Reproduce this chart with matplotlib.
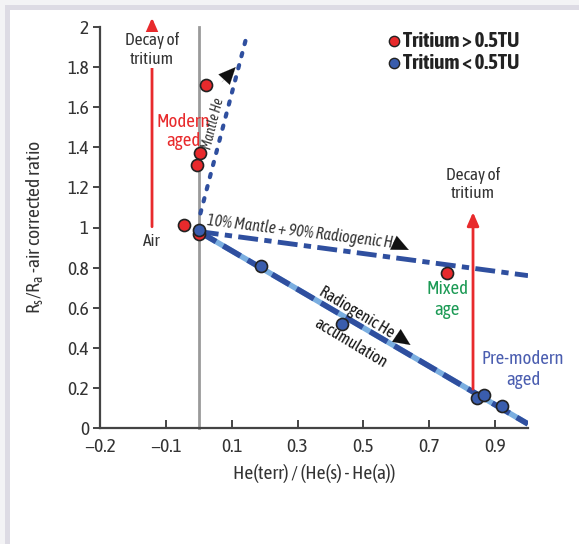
import matplotlib
matplotlib.use("Agg")
import matplotlib.pyplot as plt
from matplotlib.patches import Rectangle

plt.rcParams["font.family"] = ["Asap Condensed", "Roboto", "DejaVu Sans"]

# samples with tritium > 0.5 TU
red_x = [-0.045, 0.021, 0.003, -0.005, 0.0, 0.755]
red_y = [1.01, 1.71, 1.37, 1.31, 0.97, 0.775]
# samples with tritium < 0.5 TU
blue_x = [0.0, 0.19, 0.436, 0.845, 0.867, 0.92]
blue_y = [0.99, 0.81, 0.52, 0.15, 0.165, 0.11]

# reference lines
radiogenic_x = [0.0, 1.0]
radiogenic_y = [0.98, 0.02]
mixing_x = [0.0, 1.0]
mixing_y = [0.98, 0.76]
mantle_x = [0.005, 0.148]
mantle_y = [1.07, 1.97]

xtick_pos = [-0.3, -0.1, 0.1, 0.3, 0.5, 0.7, 0.9]
xtick_lab = ["\u22120.2", "\u22120.1", "0.1", "0.3", "0.5", "0.7", "0.9"]
ytick_pos = [0, 0.2, 0.4, 0.6, 0.8, 1, 1.2, 1.4, 1.6, 1.8, 2]
ytick_lab = ["0", "0.2", "0.4", "0.6", "0.8", "1", "1.2", "1.4", "1.6", "1.8", "2"]

RED = "#e82a2c"
BLUE = "#2f4f9f"
LIGHT = "#7aaee0"
GREEN = "#1c9a55"
GRAYTXT = "#333333"

fig = plt.figure(figsize=(5.79, 5.44), dpi=100)
# frame around the panel
fig.patches.append(Rectangle((0, 0), 1, 1, transform=fig.transFigure,
                             facecolor="#f3f3f5", edgecolor="none", zorder=-3))
fig.patches.append(Rectangle((5 / 579, 0), 1, 1 - 5 / 544, transform=fig.transFigure,
                             facecolor="#dddbe4", edgecolor="none", zorder=-2))
fig.patches.append(Rectangle((10 / 579, 0), 1, 1 - 10 / 544, transform=fig.transFigure,
                             facecolor="white", edgecolor="none", zorder=-1))

ax = fig.add_axes([100 / 579, 116 / 544, 428 / 579, 401 / 544])
ax.set_facecolor("none")
ax.set_xlim(-0.3, 1.0)
ax.set_ylim(0, 2.0)
for s in ["top", "right"]:
    ax.spines[s].set_visible(False)
for s in ["left", "bottom"]:
    ax.spines[s].set_color("#444444")
    ax.spines[s].set_linewidth(1.6)
ax.set_xticks(xtick_pos)
ax.set_xticklabels(xtick_lab)
ax.set_yticks(ytick_pos)
ax.set_yticklabels(ytick_lab)
ax.tick_params(labelsize=14, color="#444444", labelcolor=GRAYTXT, width=1.4, length=5)
ax.tick_params(axis="x", direction="in", length=6, pad=7)
ax.tick_params(axis="y", pad=3)

ax.set_xlabel("He(terr) / (He(s) - He(a))", fontsize=14, color=GRAYTXT, labelpad=6)
ax.set_ylabel(r"R$_\mathregular{s}$/R$_\mathregular{a}$ -air corrected ratio",
              fontsize=14, color=GRAYTXT, labelpad=15)

# air line
ax.plot([0, 0], [0, 2.0], color="#9a9a9a", lw=2, zorder=1, clip_on=False)

# radiogenic accumulation
ax.plot(radiogenic_x, radiogenic_y, color=LIGHT, lw=4, zorder=2, solid_capstyle="butt")
ax.plot(radiogenic_x, radiogenic_y, color=BLUE, lw=4, dashes=(3.6, 1.5), zorder=3)
# mantle + radiogenic mixing
ax.plot(mixing_x, mixing_y, color=BLUE, lw=3.5, dashes=(4.1, 1.3, 1.5, 1.3), zorder=3)
# mantle He
ax.plot(mantle_x, mantle_y, color=BLUE, lw=3, dashes=(0.8, 2.2),
        dash_capstyle="round", zorder=3)

# tritium decay arrows
ax.annotate("", xy=(-0.142, 2.06), xytext=(-0.142, 0.99),
            arrowprops=dict(arrowstyle="-|>,head_length=0.8,head_width=0.35",
                            color=RED, lw=2), annotation_clip=False)
ax.annotate("", xy=(0.833, 1.09), xytext=(0.833, 0.18),
            arrowprops=dict(arrowstyle="-|>,head_length=0.8,head_width=0.35",
                            color=RED, lw=2))

# direction arrowheads
def head(x0, y0, x1, y1):
    ax.annotate("", xy=(x1, y1), xytext=(x0, y0),
                arrowprops=dict(arrowstyle="-|>,head_length=1.1,head_width=0.5",
                                mutation_scale=11, color="#111111", lw=0.1,
                                shrinkA=0, shrinkB=0), zorder=6)

head(0.07, 1.725, 0.112, 1.80)
head(0.59, 0.925, 0.638, 0.888)
head(0.598, 0.464, 0.643, 0.414)

ax.scatter(red_x, red_y, s=75, color=RED, edgecolor="#222222", lw=1.2, zorder=5)
ax.scatter(blue_x, blue_y, s=75, color="#3a5dad", edgecolor="#222222", lw=1.2, zorder=5)

# labels
ax.text(-0.142, 1.885, "Decay of\ntritium", ha="center", va="center", fontsize=12.5,
        color=GRAYTXT, linespacing=1.1,
        bbox=dict(facecolor="white", edgecolor="none", pad=0.5))
ax.text(-0.142, 0.93, "Air", ha="center", va="center", fontsize=12.5, color=GRAYTXT)
ax.text(0.833, 1.215, "Decay of\ntritium", ha="center", va="center", fontsize=12.5,
        color=GRAYTXT, linespacing=1.1)
ax.text(-0.048, 1.48, "Modern\naged", ha="center", va="center", fontsize=13.5,
        color=RED, linespacing=1.1)
ax.text(0.755, 0.64, "Mixed\nage", ha="center", va="center", fontsize=13.5,
        color=GREEN, linespacing=1.2)
ax.text(0.985, 0.29, "Pre-modern\naged", ha="center", va="center", fontsize=13.5,
        color="#4b5eb0", linespacing=1.2)
ax.text(0.046, 1.52, "Mantle He", ha="center", va="center", fontsize=10,
        color=GRAYTXT, rotation=76, style="italic")
ax.text(0.318, 0.978, "10% Mantle + 90% Radiogenic He", ha="center", va="center",
        fontsize=11.5, color=GRAYTXT, rotation=-7, style="italic")
ax.text(0.48, 0.578, "Radiogenic He", ha="center", va="center", fontsize=11.5,
        color="#111111", rotation=-31)
ax.text(0.46, 0.424, "accumulation", ha="center", va="center", fontsize=11.5,
        color="#111111", rotation=-31)

# legend
ax.scatter([0.594], [1.93], s=55, color=RED, edgecolor="#222222", lw=1, zorder=5, clip_on=False)
ax.scatter([0.594], [1.82], s=55, color="#3a5dad", edgecolor="#222222", lw=1, zorder=5, clip_on=False)
ax.text(0.62, 1.93, "Tritium > 0.5TU", ha="left", va="center", fontsize=15,
        fontweight="bold", color="#222222")
ax.text(0.62, 1.82, "Tritium < 0.5TU", ha="left", va="center", fontsize=15,
        fontweight="bold", color="#222222")

fig.savefig("out.png", dpi=100)
